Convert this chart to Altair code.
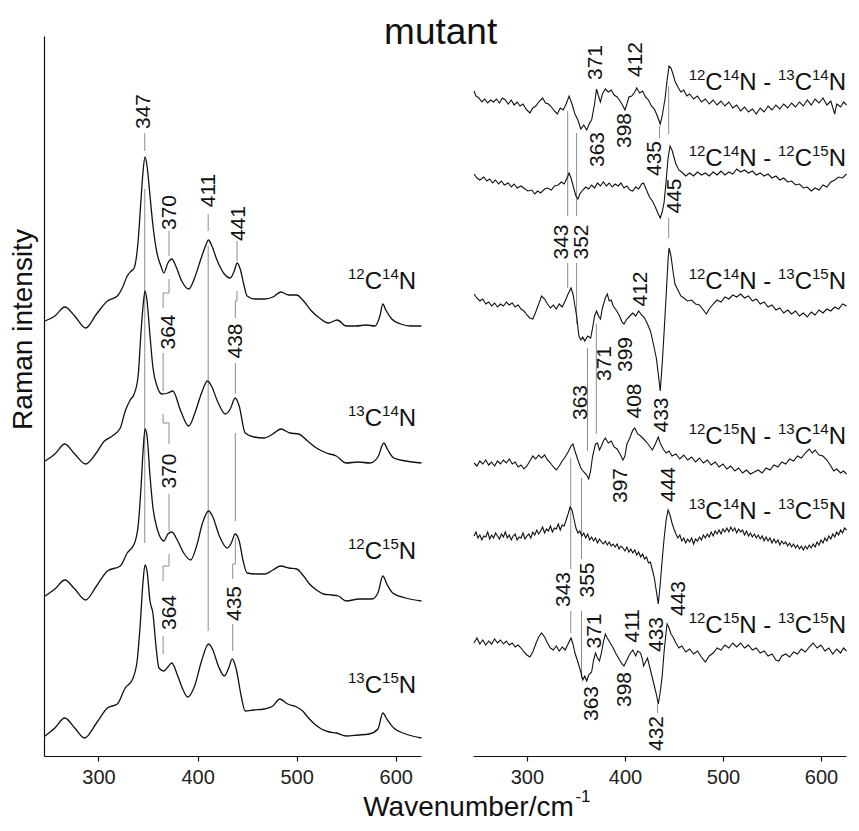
import altair as alt
import pandas as pd

FONT = "Liberation Sans"
INK = "#111111"
GUIDE = "#8c8c8c"
XMIN, XMAX = 245, 625.5
TICKS = [300, 400, 500, 600]

# ---------------- left panel: Raman spectra (wavenumber, intensity incl. stacking offset)
raman_12C14N = [(246,435),(256,440),(266,449),(276,440),(287,428),(298,442),(309,455),(319,460),(324,468),(329,480),(333,485),(336,488),(340,515),(343,558),(345,585),(347,599),(349,590),(352,560),(355,530),(359,503),(363,490),(366,483),(370,493),(374,497),(378,490),(384,475),(391,467),(397,478),(403,496),(408,510),(411,516),(414,511),(420,495),(427,482),(433,478),(437,485),(440,493),(443,487),(447,470),(450,460),(458,457),(468,457),(476,459),(484,464),(492,461),(500,461),(507,455),(515,445),(523,438),(532,433),(541,436),(550,430),(560,430),(570,431),(579,430),(584,440),(587,452),(590,446),(596,437),(605,432),(615,430),(626,430)]
raman_13C14N = [(246,295),(256,302),(266,312),(276,302),(287,292),(297,302),(306,315),(314,320),(322,328),(327,345),(332,356),(336,362),(340,380),(343,425),(345,450),(347,465),(349,455),(352,420),(355,388),(359,370),(364,362),(370,363),(375,365),(383,345),(391,330),(398,345),(404,363),(410,375),(414,370),(420,355),(428,342),(433,347),(438,358),(442,350),(448,323),(457,319),(467,318),(476,322),(484,327),(493,323),(502,322),(511,315),(520,308),(530,303),(540,300),(550,293),(562,294),(574,293),(582,299),(588,313),(592,306),(598,298),(610,295),(626,293)]
raman_12C15N = [(246,160),(256,167),(266,176),(276,167),(287,156),(298,170),(309,185),(322,190),(329,203),(336,212),(340,230),(343,270),(345,305),(347,327),(349,320),(352,280),(355,248),(359,228),(366,215),(370,222),(374,224),(380,215),(386,203),(393,196),(399,210),(405,233),(411,245),(415,240),(422,220),(430,208),(434,213),(438,222),(442,215),(446,195),(450,183),(460,182),(468,182),(476,186),(484,190),(492,188),(500,187),(507,180),(513,172),(520,166),(527,162),(535,161),(542,160),(550,155),(563,157),(576,157),(582,163),(587,180),(591,172),(597,163),(610,158),(626,155)]
raman_13C15N = [(246,20),(256,28),(266,38),(276,28),(286,18),(298,33),(309,48),(319,52),(327,68),(334,76),(339,95),(342,130),(345,175),(347,191),(349,185),(352,155),(355,142),(358,110),(361,88),(366,85),(370,89),(374,93),(380,80),(385,67),(390,59),(397,70),(404,95),(411,112),(415,107),(421,90),(427,80),(431,87),(435,97),(439,87),(444,60),(448,45),(457,46),(467,47),(476,50),(483,57),(491,52),(500,49),(506,45),(512,38),(518,32),(525,27),(533,24),(540,23),(550,20),(562,21),(573,22),(582,27),(587,43),(591,37),(598,28),(610,22),(626,18)]

# ---------------- right panel: difference spectra
diff_12C14N_13C14N = [(246,665),(248,660),(251,658),(254,654),(257,657),(260,653),(263,656),(266,654),(269,657),(272,653),(275,658),(278,656),(281,652),(284,656),(287,651),(290,654),(293,650),(296,652),(299,647),(303,643),(306,648),(309,650),(312,654),(316,658),(319,653),(322,652),(325,649),(328,645),(331,642),(334,648),(337,646),(340,652),(343,660),(346,652),(349,642),(352,636),(355,627),(358,631),(361,626),(364,633),(366,636),(369,652),(371,667),(373,660),(375,654),(377,662),(380,667),(383,664),(386,666),(389,661),(392,659),(395,655),(398,650),(400,646),(402,652),(404,659),(407,660),(410,664),(412,668),(415,663),(418,665),(421,659),(424,656),(427,650),(430,647),(433,640),(436,632),(438,640),(441,658),(443,676),(445,690),(447,688),(449,682),(451,675),(454,669),(457,664),(460,666),(463,660),(466,662),(470,657),(474,660),(478,654),(482,657),(486,652),(490,656),(494,651),(498,655),(502,650),(506,654),(510,648),(514,651),(518,645),(522,649),(526,644),(530,647),(534,642),(538,648),(542,644),(546,650),(550,646),(554,651),(558,647),(562,652),(566,648),(570,653),(574,649),(578,654),(582,650),(586,656),(590,651),(594,657),(598,653),(602,658),(606,651),(610,655),(614,642),(616,652),(620,649),(623,654),(626,651)]
diff_12C14N_12C15N = [(246,582),(249,578),(252,576),(256,579),(259,575),(262,577),(265,573),(268,576),(271,572),(274,575),(277,571),(281,573),(284,569),(287,572),(290,568),(294,570),(298,567),(301,565),(305,566),(308,562),(311,565),(314,563),(318,567),(321,568),(325,566),(328,570),(332,571),(335,574),(338,572),(341,578),(343,583),(345,578),(348,567),(350,560),(352,557),(354,562),(357,566),(360,569),(363,567),(366,571),(369,568),(372,573),(375,570),(378,574),(381,570),(384,573),(387,569),(390,572),(393,570),(396,573),(399,568),(402,570),(405,566),(408,565),(411,569),(414,567),(417,572),(419,573),(422,566),(425,559),(428,555),(431,549),(434,542),(436,538),(438,544),(440,554),(442,575),(444,598),(446,610),(448,606),(450,599),(452,592),(455,586),(458,584),(462,580),(466,583),(470,580),(474,584),(478,581),(482,583),(486,580),(490,584),(494,581),(498,585),(502,581),(506,584),(510,582),(514,587),(518,584),(522,586),(526,583),(530,585),(534,581),(538,583),(542,580),(546,582),(550,578),(554,580),(558,576),(562,578),(566,574),(570,575),(574,571),(578,572),(582,568),(586,569),(590,565),(594,568),(598,566),(602,571),(606,569),(610,574),(614,576),(618,579),(622,578),(626,582)]
diff_12C14N_13C15N = [(246,462),(249,458),(252,455),(255,457),(258,452),(261,454),(264,450),(267,453),(270,449),(273,452),(276,450),(279,454),(282,451),(285,453),(288,449),(291,451),(294,447),(297,445),(300,441),(303,438),(306,437),(309,444),(312,452),(315,460),(318,457),(321,452),(324,448),(327,451),(330,447),(333,452),(336,449),(339,455),(342,462),(345,468),(347,462),(349,450),(351,438),(353,420),(355,416),(357,419),(359,415),(362,420),(365,418),(367,428),(369,440),(371,445),(373,440),(375,437),(377,448),(380,458),(382,462),(384,455),(386,456),(388,450),(391,446),(394,441),(397,434),(399,432),(402,437),(405,440),(408,443),(411,440),(414,445),(417,441),(420,438),(423,432),(426,425),(429,412),(432,398),(434,382),(436,365),(438,392),(440,425),(442,460),(444,496),(445,508),(447,500),(449,485),(451,472),(454,466),(457,460),(460,458),(464,455),(468,456),(472,452),(476,451),(480,446),(483,442),(486,447),(490,452),(494,456),(498,454),(502,459),(506,457),(510,461),(514,459),(518,462),(522,458),(526,460),(530,455),(534,457),(538,452),(542,454),(546,449),(550,451),(554,446),(558,448),(562,443),(566,446),(570,442),(574,445),(578,440),(582,443),(586,439),(590,444),(594,441),(598,446),(602,443),(606,447),(610,445),(614,449),(618,447),(622,452),(626,450)]
diff_12C15N_13C14N = [(246,293),(249,290),(252,295),(255,292),(258,296),(261,291),(264,294),(267,290),(270,295),(273,292),(276,296),(279,293),(282,297),(285,292),(288,294),(291,289),(294,291),(297,287),(300,290),(303,295),(306,300),(309,297),(312,301),(315,298),(318,301),(321,296),(324,293),(327,289),(330,286),(333,290),(336,295),(339,299),(342,304),(345,310),(347,312),(349,305),(352,296),(355,288),(358,284),(361,281),(363,277),(365,285),(367,300),(370,312),(372,313),(374,306),(376,310),(378,315),(380,318),(383,313),(386,315),(389,309),(392,307),(395,302),(398,296),(400,300),(402,312),(405,318),(408,326),(410,328),(413,322),(416,320),(419,317),(422,314),(425,310),(428,306),(431,312),(434,319),(436,313),(439,307),(442,303),(445,305),(448,300),(452,302),(456,297),(460,301),(464,296),(468,299),(472,294),(476,298),(480,293),(484,296),(488,291),(492,294),(496,289),(500,292),(504,287),(508,290),(512,285),(516,288),(520,283),(524,286),(528,282),(532,284),(536,286),(540,283),(544,288),(548,286),(552,291),(556,289),(560,294),(564,292),(568,297),(572,295),(576,300),(580,298),(584,303),(588,307),(591,303),(594,306),(598,301),(602,300),(606,296),(610,290),(613,285),(616,287),(620,283),(623,285),(626,282)]
diff_13C14N_13C15N = [(246,220),(248,224),(250,218),(252,221),(254,216),(256,220),(258,219),(260,224),(262,217),(264,221),(266,218),(268,223),(270,220),(272,217),(274,222),(276,219),(278,224),(280,218),(282,221),(284,216),(286,220),(288,222),(290,216),(292,219),(294,218),(296,223),(298,217),(300,220),(302,222),(304,218),(306,224),(308,221),(310,226),(312,222),(314,225),(316,229),(318,223),(320,227),(322,225),(324,230),(326,224),(328,228),(330,227),(332,232),(334,226),(336,231),(338,230),(340,236),(342,242),(344,249),(346,246),(348,237),(350,228),(352,223),(354,225),(356,220),(358,223),(360,218),(362,222),(364,216),(366,219),(368,215),(370,218),(372,213),(374,217),(376,214),(378,212),(380,215),(382,211),(384,214),(386,210),(388,212),(390,209),(392,212),(394,207),(396,210),(398,208),(400,205),(402,209),(404,204),(406,207),(408,203),(410,206),(412,201),(414,204),(416,199),(418,202),(420,197),(422,199),(424,193),(426,194),(428,186),(430,178),(432,165),(434,152),(436,172),(438,196),(440,218),(442,236),(444,246),(446,241),(448,233),(450,227),(452,222),(454,218),(456,221),(458,215),(460,218),(462,213),(464,217),(466,214),(468,218),(470,212),(472,217),(474,215),(476,219),(478,216),(480,221),(482,218),(484,222),(486,219),(488,224),(490,220),(492,225),(494,222),(496,226),(498,222),(500,227),(502,224),(504,228),(506,224),(508,229),(510,225),(512,228),(514,223),(516,227),(518,224),(520,226),(522,221),(524,225),(526,220),(528,223),(530,219),(532,222),(534,218),(536,221),(538,217),(540,220),(542,215),(544,219),(546,215),(548,218),(550,213),(552,217),(554,213),(556,216),(558,211),(560,215),(562,212),(564,214),(566,210),(568,213),(570,209),(572,212),(574,208),(576,211),(578,207),(580,210),(582,206),(584,210),(586,207),(588,211),(590,208),(592,212),(594,209),(596,214),(598,211),(600,216),(602,213),(604,218),(606,215),(608,220),(610,217),(612,222),(614,219),(616,224),(618,221),(620,226),(622,223),(624,228),(626,226)]
diff_12C15N_13C15N = [(246,113),(249,118),(252,112),(255,116),(258,111),(261,115),(264,112),(267,117),(270,113),(273,116),(276,112),(279,115),(282,111),(285,113),(288,109),(291,111),(294,108),(297,104),(300,101),(303,99),(306,104),(309,112),(312,119),(315,123),(318,119),(321,113),(324,108),(327,106),(330,110),(333,105),(336,109),(339,106),(342,112),(345,118),(347,112),(349,103),(352,94),(355,84),(357,76),(359,80),(361,75),(363,81),(366,84),(368,96),(370,103),(372,98),(374,95),(376,103),(378,114),(380,122),(382,118),(385,113),(388,108),(391,102),(394,97),(397,92),(399,90),(402,96),(405,102),(408,106),(411,100),(413,105),(416,103),(418,96),(419,90),(421,94),(423,98),(426,86),(429,74),(432,62),(434,52),(436,64),(438,80),(440,105),(442,124),(443,132),(445,128),(447,122),(449,119),(452,113),(455,108),(458,110),(462,104),(466,107),(470,102),(474,105),(478,99),(482,94),(486,100),(490,103),(494,108),(498,106),(502,111),(506,108),(510,113),(514,109),(518,113),(522,108),(526,111),(530,106),(534,108),(538,103),(542,105),(546,100),(550,102),(554,96),(557,95),(560,100),(564,102),(568,99),(572,104),(576,102),(580,107),(584,104),(588,109),(592,113),(596,108),(600,111),(604,105),(608,108),(612,102),(616,107),(620,103),(623,108),(626,105)]

left_series = {"12C14N": raman_12C14N, "13C14N": raman_13C14N,
               "12C15N": raman_12C15N, "13C15N": raman_13C15N}
right_series = {"12C14N - 13C14N": diff_12C14N_13C14N, "12C14N - 12C15N": diff_12C14N_12C15N,
                "12C14N - 13C15N": diff_12C14N_13C15N, "12C15N - 13C14N": diff_12C15N_13C14N,
                "13C14N - 13C15N": diff_13C14N_13C15N, "12C15N - 13C15N": diff_12C15N_13C15N}

# spectrum names: (label, right edge wavenumber, baseline value)
left_names = [("12C14N", 620.5, 467), ("13C14N", 620.5, 330), ("12C15N", 620.5, 197), ("13C15N", 620.5, 63)]
right_names = [("12C14N - 13C14N", 625.5, 666), ("12C14N - 12C15N", 625.5, 590),
               ("12C14N - 13C15N", 625.5, 467), ("12C15N - 13C14N", 625.5, 312),
               ("13C14N - 13C15N", 625.5, 237), ("12C15N - 13C15N", 625.5, 123)]

# band labels: (text, wavenumber, value)
left_bands = [("347", 346.4, 644.5), ("370", 372.5, 543.5), ("411", 411.4, 565.5), ("441", 441.8, 532.5),
              ("364", 371.0, 424), ("438", 438.8, 415), ("370", 372.5, 285), ("364", 372.5, 143.5),
              ("435", 437.8, 152.5)]
right_bands = [("371", 370.8, 693.5), ("412", 411.1, 696.5), ("363", 372.8, 606.5), ("398", 400.0, 625.5),
               ("435", 430.2, 597.5), ("445", 451.4, 560), ("343", 335.6, 514), ("352", 355.7, 514),
               ("412", 416.1, 467), ("399", 401.0, 401.5), ("371", 379.9, 392.5), ("363", 354.7, 353.5),
               ("408", 410.1, 355), ("433", 438.3, 341), ("397", 396.0, 270.5), ("444", 445.3, 271.5),
               ("343", 337.6, 166.5), ("355", 362.7, 176), ("371", 369.8, 125), ("411", 408.1, 130),
               ("433", 433.2, 121.5), ("443", 455.4, 157.5), ("363", 366.8, 52.5), ("398", 400.0, 66.5),
               ("432", 433.2, 22.5)]

# guide lines: (x, x2, y, y2)
left_guides = [(346.7, 346.7, 605, 623), (346.7, 346.7, 213, 567),
               (371.2, 371.2, 500, 525), (371.2, 371.2, 463, 477), (365.2, 371.2, 463, 463), (365.2, 365.2, 448, 463),
               (365.2, 365.2, 365, 403), (365.2, 365.2, 333, 342), (365.2, 371.2, 333, 333), (371.2, 371.2, 312, 333),
               (371.2, 371.2, 225, 262), (371.2, 371.2, 190, 202), (365.2, 371.2, 190, 190), (365.2, 365.2, 175, 190),
               (365.2, 365.2, 102, 120),
               (410.7, 410.7, 525, 542), (410.7, 410.7, 125, 510),
               (439.8, 439.8, 495, 515), (439.8, 439.8, 455, 465), (438.1, 439.8, 455, 455), (438.1, 438.1, 438, 455),
               (438.1, 438.1, 362, 393), (438.1, 438.1, 235, 323),
               (438.1, 438.1, 192, 218), (435.5, 438.1, 192, 192), (435.5, 435.5, 177, 192), (435.5, 435.5, 105, 132)]
right_guides = [(341.6, 341.6, 540, 645), (341.6, 341.6, 468, 493),
                (350.7, 350.7, 540, 623), (350.7, 350.7, 432, 493),
                (435.3, 435.3, 618, 630), (444.6, 444.6, 622, 670), (444.6, 444.6, 518, 538),
                (361.8, 361.8, 305, 408), (370.8, 370.8, 322, 432),
                (344.7, 344.7, 187, 298), (344.7, 344.7, 123, 145),
                (355.7, 355.7, 197, 278), (355.7, 355.7, 78, 145),
                (433.2, 433.2, 43, 52)]

# free text: (text, wavenumber, value)
y_title = ("Raman intensity", 233.3, 426.5)
main_title = ("mutant", 212.0, 712)
x_title = ("Wavenumber/cm", 133.0, -60)
x_title_sup = ("-1", 349.5, -46)

MAIN, SUP = 24, 15
EM = {"C": 0.722, "N": 0.722, " ": 0.278, "-": 0.333}


def name_rows(names, px_per_wn):
    rows = []
    for label, right, base in names:
        runs, cur, cur_sup = [], "", None
        for ch in label:
            s = ch.isdigit()
            if cur and s != cur_sup:
                runs.append((cur, cur_sup))
                cur = ""
            cur += ch
            cur_sup = s
        runs.append((cur, cur_sup))
        widths = [sum(0.556 if c.isdigit() else EM[c] for c in t) * (SUP if s else MAIN) for t, s in runs]
        total, cum = sum(widths), 0.0
        for (t, s), w in zip(runs, widths):
            rows.append({"x": right - (total - cum) / px_per_wn, "y": base, "t": t, "sup": s})
            cum += w
    return pd.DataFrame(rows)


def series_df(series):
    return pd.DataFrame([{"s": k, "x": x, "y": y} for k, pts in series.items() for x, y in pts])


def panel(series, names, bands, guides, width, yaxis, extra_text, interp, lw):
    px_per_wn = width / (XMAX - XMIN)
    xs = alt.Scale(domain=[XMIN, XMAX], nice=False, zero=False)
    ys = alt.Scale(domain=[0, 720], nice=False, zero=False)
    xax = alt.Axis(values=TICKS, title=None, grid=False, labelFontSize=20, labelFont=FONT,
                   labelColor="#222222", tickSize=5, tickColor=INK, tickWidth=1.2,
                   domainColor=INK, domainWidth=1.2, labelPadding=6)
    X = alt.X("x:Q", scale=xs, axis=xax)
    Y = alt.Y("y:Q", scale=ys, axis=yaxis)

    gdf = pd.DataFrame(guides, columns=["x", "x2", "y", "y2"])
    g = alt.Chart(gdf).mark_rule(color=GUIDE, strokeWidth=1).encode(x=X, x2="x2:Q", y=Y, y2="y2:Q")

    lines = alt.Chart(series_df(series)).mark_line(color=INK, strokeWidth=lw, interpolate=interp).encode(
        x=X, y=Y, detail="s:N")

    ndf = name_rows(names, px_per_wn)
    nm = alt.Chart(ndf[~ndf["sup"]]).mark_text(align="left", baseline="alphabetic", font=FONT,
                                                fontSize=MAIN, color=INK).encode(x=X, y=Y, text="t:N")
    ns = alt.Chart(ndf[ndf["sup"]]).mark_text(align="left", baseline="alphabetic", font=FONT,
                                               fontSize=SUP, dy=-10, color=INK).encode(x=X, y=Y, text="t:N")

    bdf = pd.DataFrame(bands, columns=["t", "x", "y"])
    bl = alt.Chart(bdf).mark_text(angle=270, align="center", baseline="middle", font=FONT,
                                  fontSize=21, color=INK).encode(x=X, y=Y, text="t:N")
    layers = [g, lines, nm, ns, bl]
    for (t, x, y), size, kw in extra_text:
        d = pd.DataFrame([{"t": t, "x": x, "y": y}])
        layers.append(alt.Chart(d).mark_text(font=FONT, fontSize=size, color=INK, **kw).encode(
            x=X, y=Y, text="t:N"))
    return alt.layer(*layers).properties(width=width, height=720)


left_axis = alt.Axis(labels=False, ticks=False, title=None, grid=False, domainColor=INK, domainWidth=1.2)
left = panel(left_series, left_names, left_bands, left_guides, 377, left_axis,
             [(y_title, 28, dict(angle=270, align="center", baseline="alphabetic"))], "monotone", 1.3)
right = panel(right_series, right_names, right_bands, right_guides, 373, None,
              [(main_title, 37, dict(align="center", baseline="alphabetic")),
               (x_title, 28, dict(align="left", baseline="alphabetic")),
               (x_title_sup, 17, dict(align="left", baseline="alphabetic"))], "linear", 1.1)

chart = alt.hconcat(left, right, spacing=52, bounds="flush").properties(
    padding={"left": 2, "top": 5, "right": 0, "bottom": 0}
).configure_view(stroke=None)

chart.save("out.html", embed_options={"renderer": "svg", "actions": False})
